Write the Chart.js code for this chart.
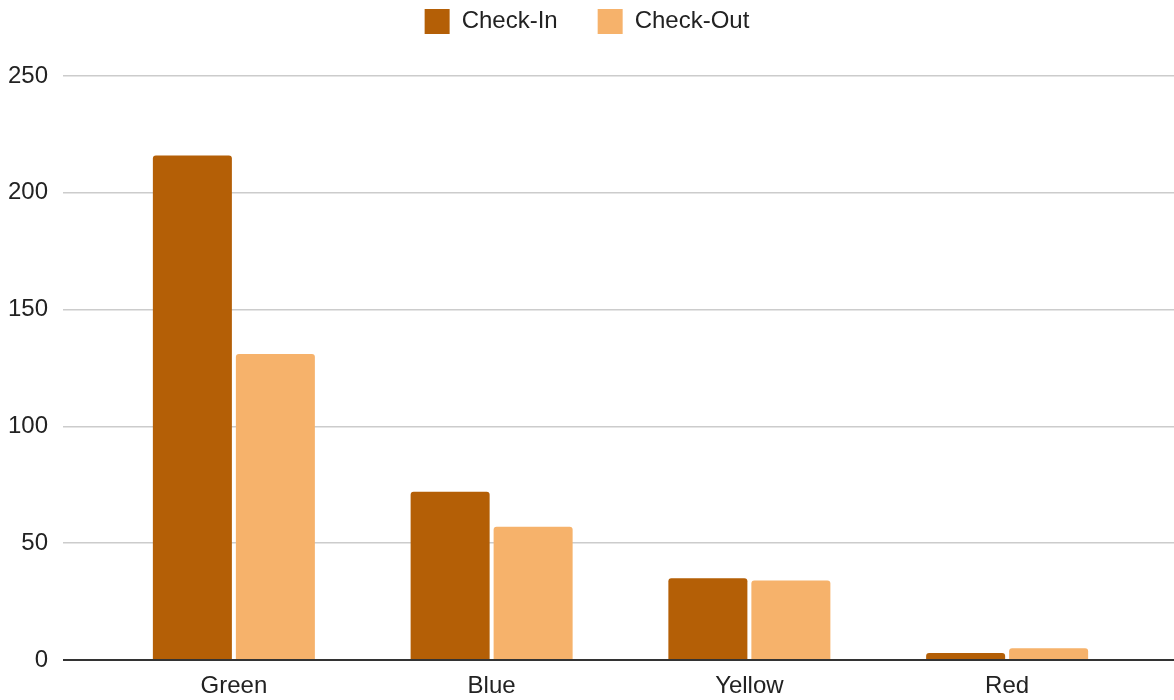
<!DOCTYPE html>
<html>
<head>
<meta charset="utf-8">
<script src="https://cdn.jsdelivr.net/npm/chart.js@4"></script>
<style>
  html, body { margin: 0; padding: 0; background: #fff; }
  #wrap { width: 1174px; height: 700px; }
</style>
</head>
<body>
<div id="wrap"><canvas id="myChart" width="1174" height="700"></canvas></div>
<script>
const categories = ['Green', 'Blue', 'Yellow', 'Red'];
const checkIn = [216, 72, 35, 3];
const checkOut = [131, 57, 34, 5];
const yTicks = [0, 50, 100, 150, 200, 250];

const font = { family: "'Liberation Sans', Arial, sans-serif", size: 24 };

function gridColor(ctx) {
    return ctx.tick && ctx.tick.value === 0 ? '#333333' : '#cccccc';
}
function gridWidth(ctx) {
    return ctx.tick && ctx.tick.value === 0 ? 2 : 1.5;
}

// legend gets a fixed height so the plot starts where the reference does
const legendHeight = {
    id: 'legendHeight',
    beforeInit(chart) {
        const fit = chart.legend.fit;
        chart.legend.fit = function() {
            fit.bind(chart.legend)();
            this.height = 107;
        };
    }
};

const ctx = document.getElementById('myChart');

new Chart(ctx, {
    type: 'bar',
    data: {
        labels: categories,
        datasets: [{
            label: 'Check-In',
            data: checkIn,
            backgroundColor: '#b45f06',
            borderRadius: 3,
            categoryPercentage: 0.644,
            barPercentage: 0.952
        }, {
            label: 'Check-Out',
            data: checkOut,
            backgroundColor: '#f6b26b',
            borderRadius: 3,
            categoryPercentage: 0.644,
            barPercentage: 0.952
        }]
    },
    plugins: [legendHeight],
    options: {
        responsive: false,
        animation: false,
        layout: { padding: { top: -31, left: 0, right: 0, bottom: 0 } },
        plugins: {
            tooltip: { enabled: false },
            legend: {
                position: 'top',
                labels: {
                    boxWidth: 25,
                    boxHeight: 25,
                    padding: 40,
                    color: '#222222',
                    font: font
                }
            }
        },
        scales: {
            x: {
                afterFit: function(scale) { scale.height = 40; },
                grid: { display: false, drawTicks: false },
                border: { display: false },
                ticks: { color: '#222222', font: font, padding: 12 }
            },
            y: {
                position: 'left',
                min: yTicks[0],
                max: yTicks[yTicks.length - 1],
                afterBuildTicks: function(scale) {
                    scale.ticks = yTicks.map(v => ({ value: v }));
                },
                afterFit: function(scale) { scale.width = 105; },
                border: { display: false },
                grid: { color: gridColor, lineWidth: gridWidth, tickLength: 42 },
                ticks: { color: '#222222', font: font, padding: 15 }
            },
            y2: {
                position: 'right',
                min: yTicks[0],
                max: yTicks[yTicks.length - 1],
                afterBuildTicks: function(scale) {
                    scale.ticks = yTicks.map(v => ({ value: v }));
                },
                afterFit: function(scale) { scale.width = 38; },
                border: { display: false },
                grid: { color: gridColor, lineWidth: gridWidth, tickLength: 38, drawOnChartArea: false },
                ticks: { display: false }
            }
        }
    }
});
</script>
</body>
</html>
